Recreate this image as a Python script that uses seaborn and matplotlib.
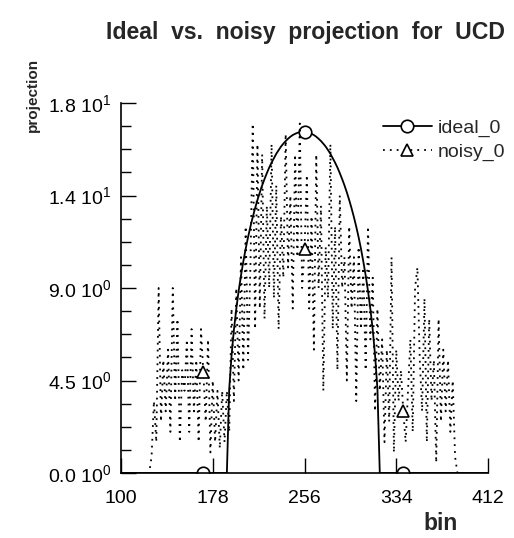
import numpy as np
import matplotlib
matplotlib.use("Agg")
import matplotlib.pyplot as plt
import seaborn as sns

# ---------------- data ----------------
bin_start, bin_stop, bin_step = 0, 512, 2

ideal_first_bin = 190
ideal_values = [
    0.0, 4.09, 5.73, 6.97, 7.98, 8.85, 9.61, 10.29, 10.91, 11.47, 11.98,
    12.45, 12.88, 13.28, 13.65, 13.99, 14.30, 14.59, 14.86, 15.10, 15.32,
    15.53, 15.71, 15.88, 16.02, 16.15, 16.26, 16.36, 16.44, 16.50, 16.55,
    16.58, 16.60, 16.60, 16.58, 16.55, 16.50, 16.44, 16.36, 16.26, 16.15,
    16.02, 15.88, 15.71, 15.53, 15.32, 15.10, 14.86, 14.59, 14.30, 13.99,
    13.65, 13.28, 12.88, 12.45, 11.98, 11.47, 10.91, 10.29, 9.61, 8.85,
    7.98, 6.97, 5.73, 4.09, 0.0,
]

noisy_first_bin = 126
noisy_values = [
    # 126 .. 190
    0.8, 3.5, 1.5, 9.0, 2.5, 5.5, 3.0, 6.0, 2.0, 9.0, 3.5, 7.5, 1.5, 5.0,
    4.0, 6.5, 2.0, 7.0, 3.0, 5.5, 1.5, 7.0, 4.9, 2.5, 6.5, 1.0, 4.5, 1.5,
    4.0, 1.2, 4.0, 1.5, 4.0,
    # 192 .. 254
    2.0, 8.0, 3.5, 9.0, 4.5, 10.5, 5.0, 12.0, 5.5, 10.0, 17.0, 7.0, 16.0,
    8.0, 15.5, 7.5, 13.0, 9.0, 16.0, 8.5, 14.0, 7.0, 12.5, 9.5, 16.5, 10.0,
    13.5, 8.0, 15.5, 10.5, 17.0, 9.0,
    # 256 .. 318
    10.9, 14.5, 8.0, 12.5, 6.0, 15.5, 9.0, 13.0, 4.0, 11.0, 8.5, 16.0, 7.0,
    12.0, 5.0, 13.5, 9.0, 10.5, 4.5, 12.0, 8.0, 10.5, 3.5, 11.0, 7.0, 10.0,
    5.0, 12.0, 6.5, 9.5, 3.0, 8.0,
    # 320 .. 384
    4.0, 6.5, 1.5, 6.0, 2.5, 10.5, 1.0, 6.0, 3.5, 5.0, 3.0, 1.5, 4.0, 6.5,
    2.0, 9.0, 10.0, 5.5, 3.0, 8.5, 1.5, 7.5, 3.5, 5.5, 0.5, 7.5, 2.5, 6.0,
    3.0, 5.5, 2.0, 4.5, 0.8,
]

marker_bins = [170, 256, 340]

x_ticks = [100, 178, 256, 334, 412]
y_ticks = [0.0, 4.5, 9.0, 13.5, 18.0]
y_tick_labels = [r"0.0 10$^{0}$", r"4.5 10$^{0}$", r"9.0 10$^{0}$",
                 r"1.4 10$^{1}$", r"1.8 10$^{1}$"]

title_text = "Ideal  vs.  noisy  projection  for  UCD"
x_label = "bin"
y_label = "projection"
series_names = ["ideal_0", "noisy_0"]

# ---------------- build series ----------------
bins = np.arange(bin_start, bin_stop, bin_step)
ideal = np.zeros(len(bins))
i0 = (ideal_first_bin - bin_start) // bin_step
ideal[i0:i0 + len(ideal_values)] = ideal_values
noisy = np.zeros(len(bins))
n0 = (noisy_first_bin - bin_start) // bin_step
noisy[n0:n0 + len(noisy_values)] = noisy_values
mark_idx = [int(np.where(bins == b)[0][0]) for b in marker_bins]

# ---------------- style ----------------
sns.set_theme(style="ticks")
fam = ["Liberation Sans", "DejaVu Sans"]
plt.rcParams["font.family"] = fam
plt.rcParams["mathtext.fontset"] = "custom"
plt.rcParams["mathtext.rm"] = "Liberation Sans"
plt.rcParams["mathtext.it"] = "Liberation Sans"
plt.rcParams["mathtext.bf"] = "Liberation Sans:bold"

fig = plt.figure(figsize=(5.14, 5.38), dpi=100)
ax = fig.add_axes([121 / 514, 1 - 473 / 538, (488 - 121) / 514, (473 - 103) / 538])

sns.lineplot(x=bins, y=ideal, ax=ax, color="black", lw=1.3, marker="o",
             markevery=mark_idx, mfc="white", mec="black", mew=1.2, ms=9,
             label=series_names[0], sort=False, estimator=None)
sns.lineplot(x=bins, y=noisy, ax=ax, color="black", lw=1.3,
             linestyle=(0, (1, 2.8)), marker="^",
             markevery=mark_idx, mfc="white", mec="black", mew=1.2, ms=8.5,
             label=series_names[1], sort=False, estimator=None)

ax.set_xlim(x_ticks[0], x_ticks[-1])
ax.set_ylim(y_ticks[0], y_ticks[-1])
ax.set_xticks(x_ticks)
ax.set_xticklabels([str(t) for t in x_ticks])
ax.set_yticks(y_ticks)
ax.set_yticklabels(y_tick_labels)
ax.set_yticks(np.arange(0, 18.01, 1.125), minor=True)
ax.tick_params(axis="both", which="major", direction="in", length=11,
               width=1.0, color="black", labelsize=14, labelcolor="black")
ax.tick_params(axis="y", which="minor", direction="in", length=7,
               width=1.0, color="black")
ax.tick_params(axis="x", which="major", pad=12)
ax.tick_params(axis="y", which="major", pad=7)
for s in ["top", "right"]:
    ax.spines[s].set_visible(False)
for s in ["left", "bottom"]:
    ax.spines[s].set_color("black")
    ax.spines[s].set_linewidth(1.2)
ax.set_xlabel("")
ax.set_ylabel("")

leg = ax.legend(loc="upper right", bbox_to_anchor=(505 / 514, 1 - 119 / 538),
                bbox_transform=fig.transFigure, frameon=False, fontsize=14,
                handlelength=2.5, handletextpad=0.3, labelspacing=0.35,
                borderaxespad=0, borderpad=0)

fig.text(305 / 514, 1 - 32 / 538, title_text, ha="center", va="center",
         fontsize=16.6, fontweight="bold")
fig.text(33 / 514, 1 - 95 / 538, y_label, ha="center", va="center",
         rotation=90, fontsize=11, fontweight="bold")
fig.text(441 / 514, 1 - 523 / 538, x_label, ha="center", va="center",
         fontsize=16.5, fontweight="bold")

fig.savefig("out.png", dpi=100)
